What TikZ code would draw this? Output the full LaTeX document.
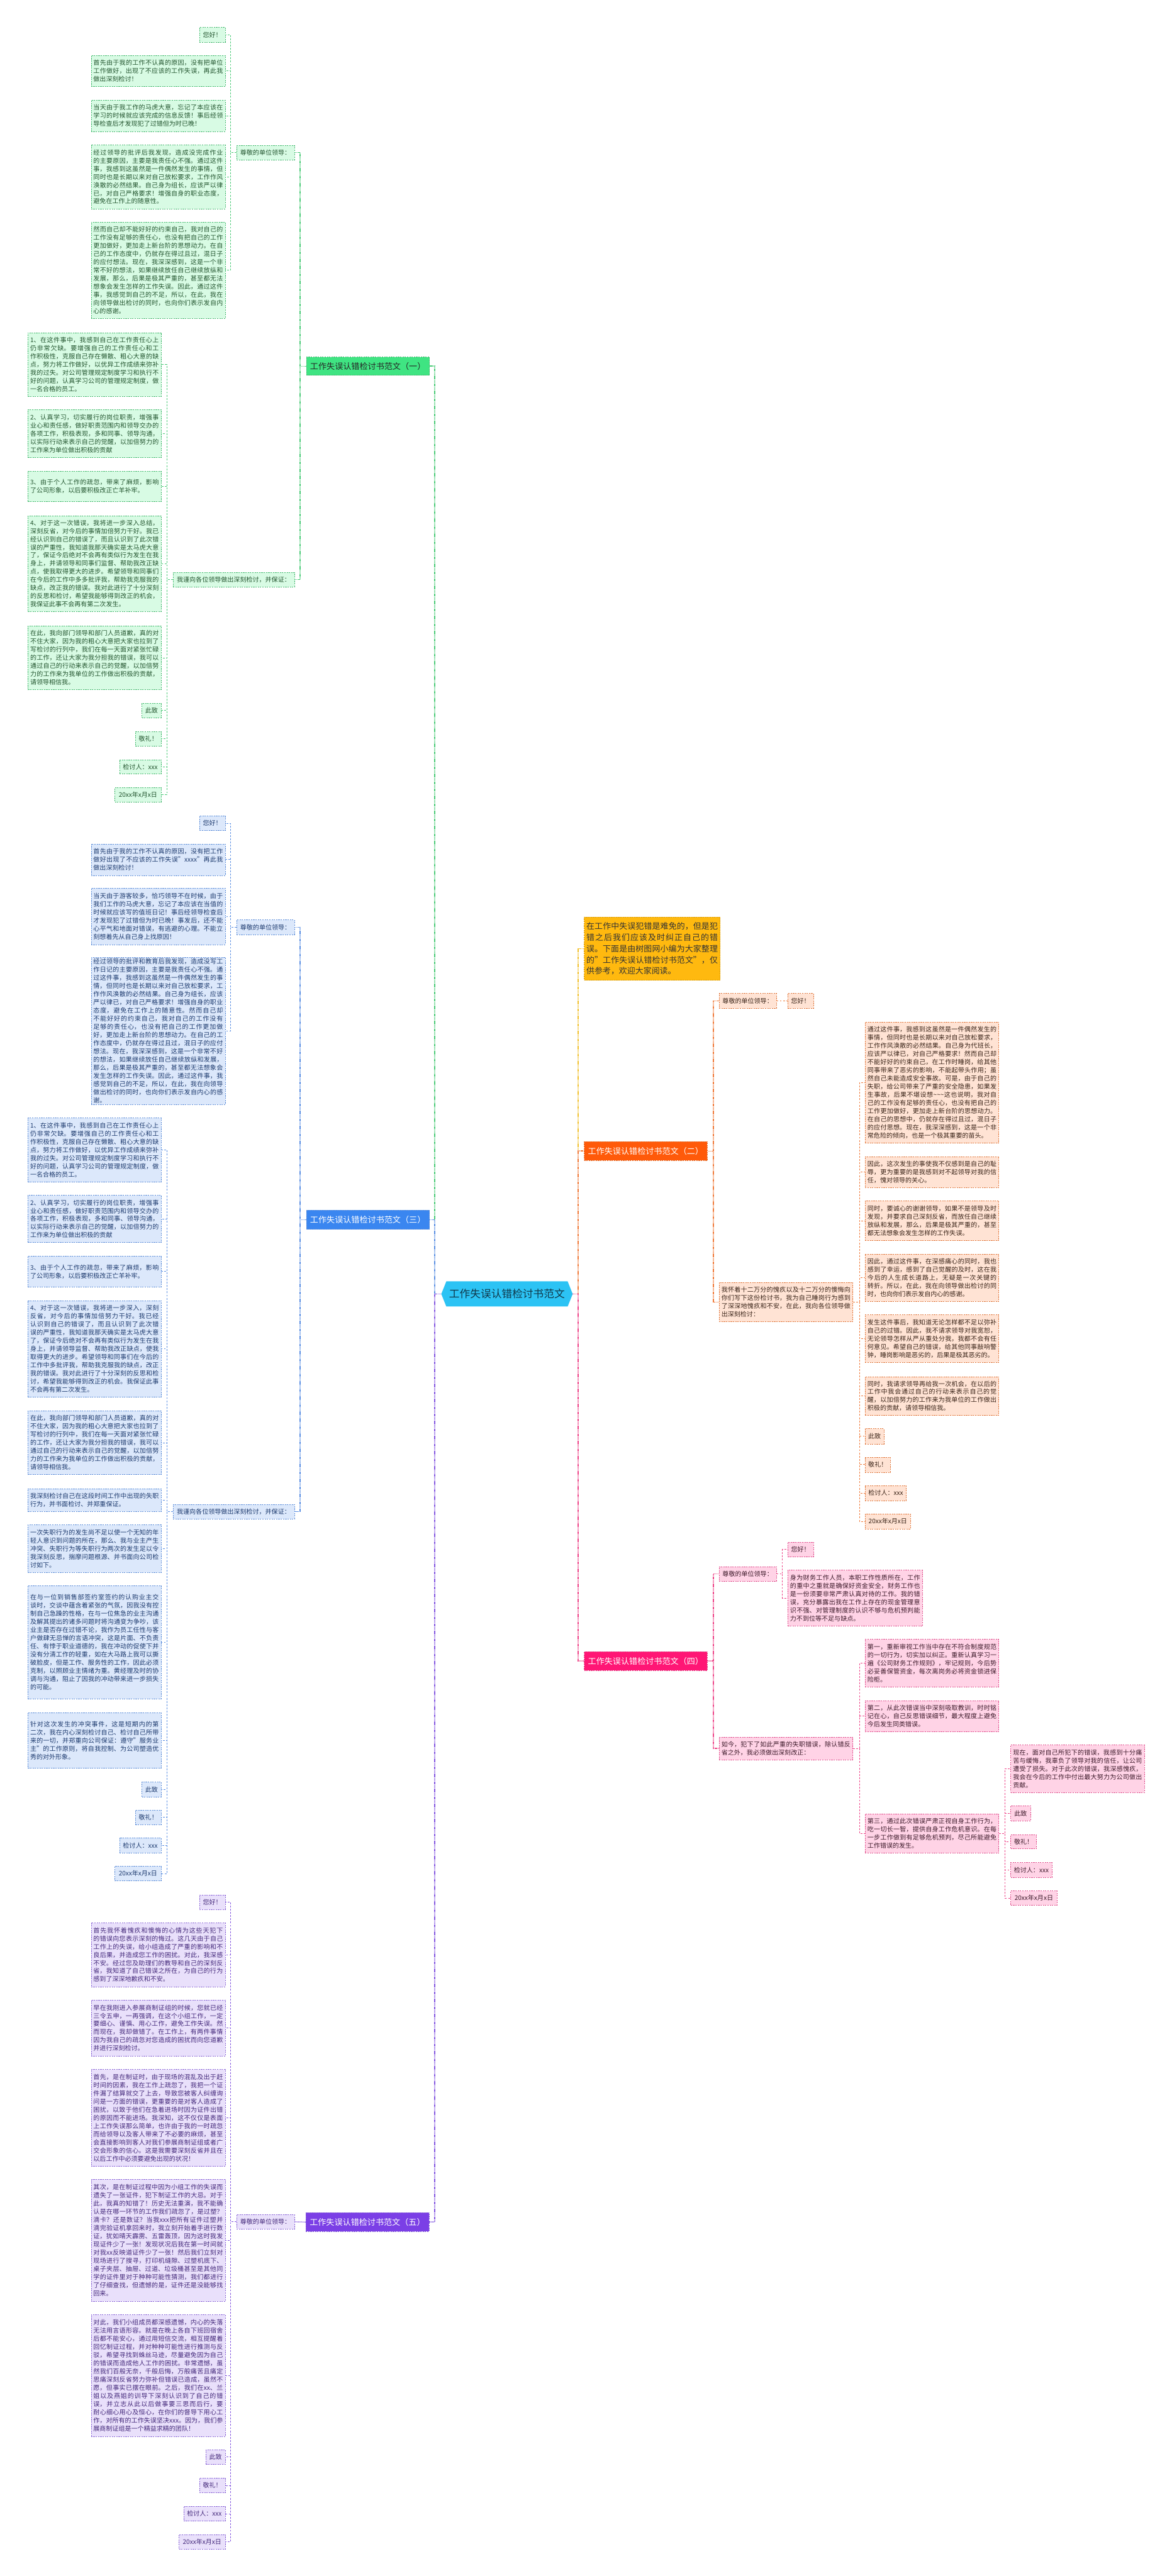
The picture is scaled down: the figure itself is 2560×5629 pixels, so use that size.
\documentclass[tikz,border=0pt]{standalone}
\usepackage{fontspec}
\setmainfont{Noto Sans CJK SC}
\XeTeXlinebreaklocale "zh"
\XeTeXlinebreakskip=0pt plus 1pt
\setlength{\parindent}{0pt}
\definecolor{gF}{HTML}{D8FBE4}\definecolor{gD}{HTML}{45B86F}\definecolor{gT}{HTML}{23552F}\definecolor{gL}{HTML}{3FE482}\definecolor{gN}{HTML}{4CCB78}
\definecolor{bF}{HTML}{DCE8FB}\definecolor{bD}{HTML}{5E8ED8}\definecolor{bT}{HTML}{1D3A6E}\definecolor{bL}{HTML}{3A86F0}\definecolor{bN}{HTML}{5B8FE3}
\definecolor{pF}{HTML}{E9E0FB}\definecolor{pD}{HTML}{8A66D6}\definecolor{pT}{HTML}{43287A}\definecolor{pL}{HTML}{7B3FE6}\definecolor{pN}{HTML}{8457E0}
\definecolor{oF}{HTML}{FFE3D4}\definecolor{oD}{HTML}{E0773C}\definecolor{oT}{HTML}{3A2418}\definecolor{oL}{HTML}{FF5A0A}\definecolor{oN}{HTML}{F07A3A}
\definecolor{kF}{HTML}{FFD3E6}\definecolor{kD}{HTML}{E04E8C}\definecolor{kT}{HTML}{3D1A2A}\definecolor{kL}{HTML}{FF1675}\definecolor{kN}{HTML}{EE4488}
\definecolor{yL}{HTML}{FFB90F}\definecolor{yD}{HTML}{D99A00}\definecolor{yN}{HTML}{F2C12E}
\definecolor{cL}{HTML}{2CC3F4}\definecolor{cT}{HTML}{10384A}
\newcommand\fsA{\fontsize{13.8}{17.8}\selectfont}
\newcommand\fsL{\fontsize{18}{22}\selectfont}
\newcommand\fsY{\fontsize{17.8}{24.5}\selectfont}
\newcommand\fsC{\fontsize{23}{26}\selectfont}
\newcommand\tbx[7]{\pgfmathsetmacro\tw{#5-#3-10}%
  \node[#1, minimum width={#5-#3}, minimum height={#6-#4}, text width=\tw pt, align=justify] (#2) at ({(#3+#5)/2},{(#4+#6)/2}) {#7};}
\newcommand\sbx[7]{\node[#1, minimum width={#5-#3}, minimum height={#6-#4}] (#2) at ({(#3+#5)/2},{(#4+#6)/2}) {#7};}
\newcommand\tld{\textasciitilde}
\tikzset{
  base/.style={rectangle, draw, dash pattern=on 3pt off 2pt, line width=0.8pt, inner xsep=5pt, inner ysep=3pt, font=\fsA},
  gb/.style={base, fill=gF, draw=gD, text=gT},
  bb/.style={base, fill=bF, draw=bD, text=bT},
  pb/.style={base, fill=pF, draw=pD, text=pT},
  ob/.style={base, fill=oF, draw=oD, text=oT},
  kb/.style={base, fill=kF, draw=kD, text=kT},
  lab/.style={rectangle, dash pattern=on 3pt off 2pt, line width=0.8pt, inner sep=3pt, font=\fsL},
  l1/.style={line width=2pt, dash pattern=on 2pt off 1pt},
  l2/.style={line width=1.6pt, dash pattern=on 2pt off 1pt},
  l3/.style={line width=1.2pt, dash pattern=on 4pt off 3pt},
}
\begin{document}
\begin{tikzpicture}[x=1pt,y=-1pt]
\useasboundingbox (0,0) rectangle (2560,5629);
\fill[white] (0,0) rectangle (2560,5629);

% ---------- centre ----------
\fill[cL] (964,2827.5) -- (975,2800) -- (1240,2800) -- (1251,2827.5) -- (1240,2855) -- (975,2855) -- cycle;
\node[minimum width=287, minimum height=55, inner sep=0pt, font=\fsC, text=cT] (root) at (1107.5,2827.5) {工作失误认错检讨书范文};

% ---------- section labels ----------
\sbx{lab, fill=gL, draw=gD, text=black!85}{s1}{669}{780}{938}{820}{工作失误认错检讨书范文（一）}
\sbx{lab, fill=bL, draw=bD, text=white}{s3}{669}{2644}{938}{2686}{工作失误认错检讨书范文（三）}
\sbx{lab, fill=pL, draw=pD, text=white}{s5}{668}{4835}{937}{4876}{工作失误认错检讨书范文（五）}
\sbx{lab, fill=oL, draw=oD, text=white}{s2}{1276}{2494}{1545}{2536}{工作失误认错检讨书范文（二）}
\sbx{lab, fill=kL, draw=kD, text=white}{s4}{1276}{3609}{1545}{3650}{工作失误认错检讨书范文（四）}
\tbx{lab, fill=yL, draw=yD, text=black!80, font=\fsY, inner xsep=5pt}{intro}{1276}{2004}{1573}{2142}{在工作中失误犯错是难免的，但是犯错之后我们应该及时纠正自己的错误。下面是由树图网小编为大家整理的"工作失误认错检讨书范文"，仅供参考，欢迎大家阅读。}

% ---------- section 1 ----------
\sbx{gb}{a1z}{517}{318}{643}{349}{尊敬的单位领导：}
\sbx{gb}{a1w}{378}{1251}{643}{1282}{我谨向各位领导做出深刻检讨，并保证：}
\sbx{gb}{a1h}{436}{60}{492}{92}{您好！}
\tbx{gb}{a1a}{199}{121}{492}{189}{首先由于我的工作不认真的原因，没有把单位工作做好，出现了不应该的工作失误，再此我做出深刻检讨！}
\tbx{gb}{a1b}{199}{219}{492}{287}{当天由于我工作的马虎大意，忘记了本应该在学习的时候就应该完成的信息反馈！事后经领导检查后才发现犯了过错但为时已晚！}
\tbx{gb}{a1c}{199}{317}{492}{456}{经过领导的批评后我发现，造成没完成作业的主要原因，主要是我责任心不强。通过这件事，我感到这虽然是一件偶然发生的事情，但同时也是长期以来对自己放松要求，工作作风涣散的必然结果。自己身为组长，应该严以律已，对自己严格要求！增强自身的职业态度，避免在工作上的随意性。}
\tbx{gb}{a1d}{199}{485}{492}{696}{然而自己却不能好好的约束自己，我对自己的工作没有足够的责任心，也没有把自己的工作更加做好，更加走上新台阶的思想动力。在自己的工作态度中，仍就存在得过且过，混日子的应付想法。现在，我深深感到，这是一个非常不好的想法，如果继续放任自己继续放纵和发展，那么，后果是极其严重的，甚至都无法想象会发生怎样的工作失误。因此，通过这件事，我感觉到自己的不足，所以，在此，我在向领导做出检讨的同时，也向你们表示发自内心的感谢。}
\tbx{gb}{a2a}{61}{727}{352}{866}{1、在这件事中，我感到自己在工作责任心上仍非常欠缺。要增强自己的工作责任心和工作积极性，克服自己存在懒散、粗心大意的缺点，努力将工作做好，以优异工作成绩来弥补我的过失。对公司管理规定制度学习和执行不好的问题，认真学习公司的管理规定制度，做一名合格的员工。}
\tbx{gb}{a2b}{61}{895}{352}{1000}{2、认真学习，切实履行的岗位职责，增强事业心和责任感，做好职责范围内和领导交办的各项工作，积极表现，多和同事、领导沟通，以实际行动来表示自己的觉醒，以加倍努力的工作来为单位做出积极的贡献}
\tbx{gb}{a2c}{61}{1030}{352}{1096}{3、由于个人工作的疏忽，带来了麻烦，影响了公司形象，以后要积极改正亡羊补牢。}
\tbx{gb}{a2d}{61}{1127}{352}{1336}{4、对于这一次错误，我将进一步深入总结，深刻反省，对今后的事情加倍努力干好。我已经认识到自己的错误了，而且认识到了此次错误的严重性，我知道我那天确实是太马虎大意了，保证今后绝对不会再有类似行为发生在我身上，并请领导和同事们监督、帮助我改正缺点，使我取得更大的进步。希望领导和同事们在今后的工作中多多批评我，帮助我克服我的缺点，改正我的错误。我对此进行了十分深刻的反思和检讨，希望我能够得到改正的机会，我保证此事不会再有第二次发生。}
\tbx{gb}{a2e}{61}{1368}{352}{1507}{在此，我向部门领导和部门人员道歉，真的对不住大家，因为我的粗心大意把大家也拉到了写检讨的行列中，我们在每一天面对紧张忙碌的工作，还让大家为我分担我的错误，我可以通过自己的行动来表示自己的觉醒，以加倍努力的工作来为我单位的工作做出积极的贡献，请领导相信我。}
\sbx{gb}{a2f}{310}{1537}{352}{1568}{此致}
\sbx{gb}{a2g}{296}{1599}{352}{1630}{敬礼！}
\sbx{gb}{a2h}{261}{1660}{352}{1691}{检讨人：xxx}
\sbx{gb}{a2i}{251}{1721}{352}{1752}{20xx年x月x日}

% ---------- section 3 ----------
\sbx{bb}{b1z}{517}{2010}{643}{2042}{尊敬的单位领导：}
\sbx{bb}{b1w}{378}{3287}{643}{3319}{我谨向各位领导做出深刻检讨，并保证：}
\sbx{bb}{b1h}{436}{1783}{492}{1815}{您好！}
\tbx{bb}{b1a}{199}{1844}{492}{1913}{首先由于我的工作不认真的原因，没有把工作做好出现了不应该的工作失误"xxxx"再此我做出深刻检讨！}
\tbx{bb}{b1b}{199}{1941}{492}{2064}{当天由于游客较多，恰巧领导不在时候，由于我们工作的马虎大意，忘记了本应该在当值的时候就应该写的值班日记！事后经领导检查后才发现犯了过错但为时已晚！事发后，还不能心平气和地面对错误，有逃避的心理。不能立刻想着先从自己身上找原因！}
\tbx{bb}{b1c}{199}{2093}{492}{2412}{经过领导的批评和教育后我发现，造成没写工作日记的主要原因，主要是我责任心不强。通过这件事，我感到这虽然是一件偶然发生的事情，但同时也是长期以来对自己放松要求，工作作风涣散的必然结果。自己身为组长，应该严以律已，对自己严格要求！增强自身的职业态度，避免在工作上的随意性。然而自己却不能好好的约束自己，我对自己的工作没有足够的责任心，也没有把自己的工作更加做好，更加走上新台阶的思想动力。在自己的工作态度中，仍就存在得过且过，混日子的应付想法。现在，我深深感到，这是一个非常不好的想法，如果继续放任自己继续放纵和发展，那么，后果是极其严重的，甚至都无法想象会发生怎样的工作失误。因此，通过这件事，我感觉到自己的不足，所以，在此，我在向领导做出检讨的同时，也向你们表示发自内心的感谢。}
\tbx{bb}{b2a}{61}{2443}{352}{2583}{1、在这件事中，我感到自己在工作责任心上仍非常欠缺。要增强自己的工作责任心和工作积极性，克服自己存在懒散、粗心大意的缺点，努力将工作做好，以优异工作成绩来弥补我的过失。对公司管理规定制度学习和执行不好的问题，认真学习公司的管理规定制度，做一名合格的员工。}
\tbx{bb}{b2b}{61}{2612}{352}{2715}{2、认真学习，切实履行的岗位职责，增强事业心和责任感，做好职责范围内和领导交办的各项工作，积极表现，多和同事、领导沟通，以实际行动来表示自己的觉醒，以加倍努力的工作来为单位做出积极的贡献}
\tbx{bb}{b2c}{61}{2745}{352}{2812}{3、由于个人工作的疏忽，带来了麻烦，影响了公司形象，以后要积极改正亡羊补牢。}
\tbx{bb}{b2d}{61}{2842}{352}{3053}{4、对于这一次错误，我将进一步深入，深刻反省，对今后的事情加倍努力干好。我已经认识到自己的错误了，而且认识到了此次错误的严重性，我知道我那天确实是太马虎大意了，保证今后绝对不会再有类似行为发生在我身上，并请领导监督、帮助我改正缺点，使我取得更大的进步。希望领导和同事们在今后的工作中多批评我，帮助我克服我的缺点，改正我的错误。我对此进行了十分深刻的反思和检讨，希望我能够得到改正的机会。我保证此事不会再有第二次发生。}
\tbx{bb}{b2e}{61}{3083}{352}{3222}{在此，我向部门领导和部门人员道歉，真的对不住大家，因为我的粗心大意把大家也拉到了写检讨的行列中，我们在每一天面对紧张忙碌的工作，还让大家为我分担我的错误，我可以通过自己的行动来表示自己的觉醒，以加倍努力的工作来为我单位的工作做出积极的贡献，请领导相信我。}
\tbx{bb}{b2f}{61}{3253}{352}{3303}{我深刻检讨自己在这段时间工作中出现的失职行为，并书面检讨、并郑重保证。}
\tbx{bb}{b2g}{61}{3332}{352}{3436}{一次失职行为的发生尚不足以使一个无知的年轻人意识到问题的所在，那么、我与业主产生冲突、失职行为等失职行为两次的发生足以令我深刻反思，揣摩问题根源、并书面向公司检讨如下。}
\tbx{bb}{b2h}{61}{3465}{352}{3712}{在与一位到销售部签约室签约的认购业主交谈时，交谈中蕴含着紧张的气氛，因我没有控制自己急躁的性格，在与一位焦急的业主沟通及解其提出的诸多问题时将沟通变为争吵，该业主是否存在过错不论，我作为员工任性与客户做肆无忌惮的言语冲突，这是片面、不负责任、有悖于职业道德的，我在冲动的促使下并没有分清工作的轻重，如在大马路上我可以撕破脸皮，但是工作、服务性的工作，因此必须克制，以照顾业主情绪为重。黄经理及时的协调与沟通，阻止了因我的冲动带来进一步损失的可能。}
\tbx{bb}{b2i}{61}{3742}{352}{3864}{针对这次发生的冲突事件，这是短期内的第二次，我在内心深刻检讨自己、检讨自己所带来的一切，并郑重向公司保证：遵守"服务业主"的工作原则，将自我控制、为公司塑造优秀的对外形象。}
\sbx{bb}{b2j}{310}{3894}{352}{3926}{此致}
\sbx{bb}{b2k}{296}{3955}{352}{3987}{敬礼！}
\sbx{bb}{b2l}{261}{4016}{352}{4049}{检讨人：xxx}
\sbx{bb}{b2m}{251}{4078}{352}{4110}{20xx年x月x日}

% ---------- section 5 ----------
\sbx{pb}{c1z}{517}{4839}{643}{4871}{尊敬的单位领导：}
\sbx{pb}{c1h}{436}{4141}{492}{4172}{您好！}
\tbx{pb}{c1a}{199}{4202}{492}{4341}{首先我怀着愧疚和懊悔的心情为这些天犯下的错误向您表示深刻的悔过。这几天由于自己工作上的失误，给小组造成了严重的影响和不良后果，并造成您工作的困扰。对此，我深感不安。经过您及助理们的教导和自己的深刻反省，我知道了自己错误之所在，为自己的行为感到了深深地歉疚和不安。}
\tbx{pb}{c1b}{199}{4370}{492}{4493}{早在我刚进入参展商制证组的时候，您就已经三令五申，一再强调，在这个小组工作，一定要细心、谨慎、用心工作，避免工作失误。然而现在，我却做错了。在工作上，有两件事情因为我自己的疏忽对您造成的困扰而向您道歉并进行深刻检讨。}
\tbx{pb}{c1c}{199}{4522}{492}{4734}{首先，是在制证时，由于现场的混乱及出于赶时间的因素，我在工作上疏忽了，我把一个证件漏了结算就交了上去，导致您被客人纠缠询问是一方面的错误，更重要的是对客人造成了困扰，以致于他们在急着进场时因为证件出错的原因而不能进场。我深知，这不仅仅是表面上工作失误那么简单，也许由于我的一时疏忽而给领导以及客人带来了不必要的麻烦，甚至会直接影响到客人对我们参展商制证组或者广交会形象的信心。这是我需要深刻反省并且在以后工作中必须要避免出现的状况！}
\tbx{pb}{c1d}{199}{4762}{492}{5029}{其次，是在制证过程中因为小组工作的失误而遗失了一张证件，犯下制证工作的大忌。对于此，我真的知错了！历史无法重演，我不能确认是在哪一环节的工作我们疏忽了，是过塑？滴卡？还是数证？当我xxx把所有证件过塑并滴完验证机拿回来时，我立刻开始着手进行数证，犹如晴天霹雳、五雷轰顶，因为这时我发现证件少了一张！发现状况后我在第一时间就对我xx反映道证件少了一张！然后我们立刻对现场进行了搜寻，打印机缝隙、过塑机底下、桌子夹层、抽屉、过道、垃圾桶甚至是其他同学的证件里对于种种可能性猜测，我们都进行了仔细查找，但遗憾的是，证件还是没能够找回来。}
\tbx{pb}{c1e}{199}{5058}{492}{5324}{对此，我们小组成员都深感遗憾，内心的失落无法用言语形容。就是在晚上各自下班回宿舍后都不能安心，通过用短信交流，相互提醒着回忆制证过程，并对种种可能性进行推测与反驳，希望寻找到蛛丝马迹，尽量避免因为自己的错误而造成他人工作的困扰。非常遗憾，虽然我们百般无奈，千般后悔，万般痛苦且痛定思痛深刻反省努力弥补但错误已造成，虽然不愿，但事实已摆在眼前。之后，我们在xx、兰姐以及燕姐的训导下深刻认识到了自己的错误，并立志从此以后做事要三思而后行，要耐心细心用心及恒心，在你们的督导下用心工作，对所有的工作失误坚决xxx。因为，我们参展商制证组是一个精益求精的团队！}
\sbx{pb}{c1f}{450}{5353}{492}{5385}{此致}
\sbx{pb}{c1g}{436}{5415}{492}{5447}{敬礼！}
\sbx{pb}{c1i}{401}{5477}{492}{5509}{检讨人：xxx}
\sbx{pb}{c1j}{391}{5538}{492}{5570}{20xx年x月x日}

% ---------- section 2 ----------
\sbx{ob}{d1z}{1571}{2171}{1696}{2203}{尊敬的单位领导：}
\sbx{ob}{d1h}{1721}{2171}{1777}{2203}{您好！}
\tbx{ob}{d1w}{1571}{2802}{1863}{2888}{我怀着十二万分的愧疚以及十二万分的懊悔向你们写下这份检讨书，我为自己睡岗行为感到了深深地愧疚和不安，在此，我向各位领导做出深刻检讨：}
\tbx{ob}{d2a}{1890}{2233}{2182}{2498}{通过这件事，我感到这虽然是一件偶然发生的事情，但同时也是长期以来对自己放松要求，工作作风涣散的必然结果。自己身为代班长，应该严以律已，对自己严格要求！然而自己却不能好好的约束自己，在工作时睡岗，给其他同事带来了恶劣的影响，不能起带头作用；虽然自己未能造成安全事故。可是，由于自己的失职，给公司带来了严重的安全隐患，如果发生事故，后果不堪设想\tld\tld\tld 这也说明，我对自己的工作没有足够的责任心，也没有把自己的工作更加做好，更加走上新台阶的思想动力。在自己的思想中，仍就存在得过且过，混日子的应付思想。现在，我深深感到，这是一个非常危险的倾向，也是一个极其重要的苗头。}
\tbx{ob}{d2b}{1890}{2527}{2182}{2595}{因此，这次发生的事使我不仅感到是自己的耻辱，更为重要的是我感到对不起领导对我的信任，愧对领导的关心。}
\tbx{ob}{d2c}{1890}{2624}{2182}{2711}{同时，要诚心的谢谢领导，如果不是领导及时发现，并要求自己深刻反省，而放任自己继续放纵和发展，那么，后果是极其严重的，甚至都无法想象会发生怎样的工作失误。}
\tbx{ob}{d2d}{1890}{2740}{2182}{2844}{因此，通过这件事，在深感痛心的同时，我也感到了幸运，感到了自己觉醒的及时，这在我今后的人生成长道路上，无疑是一次关键的转折。所以，在此，我在向领导做出检讨的同时，也向你们表示发自内心的感谢。}
\tbx{ob}{d2e}{1890}{2873}{2182}{2977}{发生这件事后，我知道无论怎样都不足以弥补自己的过错。因此，我不请求领导对我宽恕，无论领导怎样从严从重处分我，我都不会有任何意见。希望自己的错误，给其他同事敲响警钟，睡岗影响是恶劣的，后果是极其恶劣的。}
\tbx{ob}{d2f}{1890}{3008}{2182}{3093}{同时，我请求领导再给我一次机会，在以后的工作中我会通过自己的行动来表示自己的觉醒，以加倍努力的工作来为我单位的工作做出积极的贡献，请领导相信我。}
\sbx{ob}{d2g}{1890}{3122}{1931}{3155}{此致}
\sbx{ob}{d2h}{1890}{3184}{1945}{3217}{敬礼！}
\sbx{ob}{d2i}{1890}{3246}{1980}{3279}{检讨人：xxx}
\sbx{ob}{d2j}{1890}{3308}{1989}{3341}{20xx年x月x日}

% ---------- section 4 ----------
\sbx{kb}{e1z}{1571}{3423}{1696}{3455}{尊敬的单位领导：}
\sbx{kb}{e1h}{1721}{3370}{1777}{3402}{您好！}
\tbx{kb}{e1a}{1721}{3431}{2015}{3553}{身为财务工作人员，本职工作性质所在，工作的重中之重就是确保好资金安全，财务工作也是一份须要非常严肃认真对待的工作。我的错误，充分暴露出我在工作上存在的现金管理意识不强、对管理制度的认识不够与危机预判能力不到位等不足与缺点。}
\tbx{kb}{e1w}{1571}{3796}{1863}{3845}{如今，犯下了如此严重的失职错误，除认错反省之外，我必须做出深刻改正：}
\tbx{kb}{e2a}{1890}{3582}{2182}{3686}{第一，重新审视工作当中存在不符合制度规范的一切行为，切实加以纠正。重新认真学习一遍《公司财务工作规则》，牢记规则，今后势必妥善保管资金，每次离岗务必将资金锁进保险柜。}
\tbx{kb}{e2b}{1890}{3716}{2182}{3784}{第二，从此次错误当中深刻吸取教训，时时铭记在心，自己反思错误细节，最大程度上避免今后发生同类错误。}
\tbx{kb}{e2c}{1890}{3964}{2182}{4049}{第三，通过此次错误严肃正视自身工作行为，吃一切长一智，提供自身工作危机意识。在每一步工作做到有足够危机预判，尽己所能避免工作错误的发生。}
\tbx{kb}{e3a}{2208}{3813}{2500}{3917}{现在，面对自己所犯下的错误，我感到十分痛苦与缓悔，我辜负了领导对我的信任，让公司遭受了损失。对于此次的错误，我深感愧疚，我会在今后的工作中付出最大努力为公司做出贡献。}
\sbx{kb}{e3b}{2208}{3946}{2251}{3979}{此致}
\sbx{kb}{e3c}{2208}{4009}{2264}{4040}{敬礼！}
\sbx{kb}{e3d}{2208}{4070}{2298}{4102}{检讨人：xxx}
\sbx{kb}{e3e}{2208}{4132}{2309}{4163}{20xx年x月x日}

% ---------- connectors: main ----------
\draw[l1, gN] (root.west) -- ++(-14,0) |- (s1.east);
\draw[l1, bN] (root.west) -- ++(-14,0) |- (s3.east);
\draw[l1, pN] (root.west) -- ++(-14,0) |- (s5.east);
\draw[l1, yN] (root.east) -- ++(12,0) |- (intro.west);
\draw[l1, oN] (root.east) -- ++(12,0) |- (s2.west);
\draw[l1, kN] (root.east) -- ++(12,0) |- (s4.west);

% section 1
\foreach \n in {a1z,a1w} \draw[l2, gN] (s1.west) -- ++(-13,0) |- (\n.east);
\foreach \n in {a1h,a1a,a1b,a1c,a1d} \draw[l3, gN] (a1z.west) -- ++(-13,0) |- (\n.east);
\foreach \n in {a2a,a2b,a2c,a2d,a2e,a2f,a2g,a2h,a2i} \draw[l3, gN] (a1w.west) -- ++(-13,0) |- (\n.east);
% section 3
\foreach \n in {b1z,b1w} \draw[l2, bN] (s3.west) -- ++(-13,0) |- (\n.east);
\foreach \n in {b1h,b1a,b1b,b1c} \draw[l3, bN] (b1z.west) -- ++(-13,0) |- (\n.east);
\foreach \n in {b2a,b2b,b2c,b2d,b2e,b2f,b2g,b2h,b2i,b2j,b2k,b2l,b2m} \draw[l3, bN] (b1w.west) -- ++(-13,0) |- (\n.east);
% section 5
\draw[l2, pN] (s5.west) -- (c1z.east);
\foreach \n in {c1h,c1a,c1b,c1c,c1d,c1e,c1f,c1g,c1i,c1j} \draw[l3, pN] (c1z.west) -- ++(-13,0) |- (\n.east);
% section 2
\foreach \n in {d1z,d1w} \draw[l2, oN] (s2.east) -- ++(13,0) |- (\n.west);
\draw[l3, oN] (d1z.east) -- (d1h.west);
\foreach \n in {d2a,d2b,d2c,d2d,d2e,d2f,d2g,d2h,d2i,d2j} \draw[l3, oN] (d1w.east) -- ++(14,0) |- (\n.west);
% section 4
\foreach \n in {e1z,e1w} \draw[l2, kN] (s4.east) -- ++(13,0) |- (\n.west);
\foreach \n in {e1h,e1a} \draw[l3, kN] (e1z.east) -- ++(13,0) |- (\n.west);
\foreach \n in {e2a,e2b,e2c} \draw[l3, kN] (e1w.east) -- ++(14,0) |- (\n.west);
\foreach \n in {e3a,e3b,e3c,e3d,e3e} \draw[l3, kN] (e2c.east) -- ++(13,0) |- (\n.west);
\end{tikzpicture}
\end{document}
